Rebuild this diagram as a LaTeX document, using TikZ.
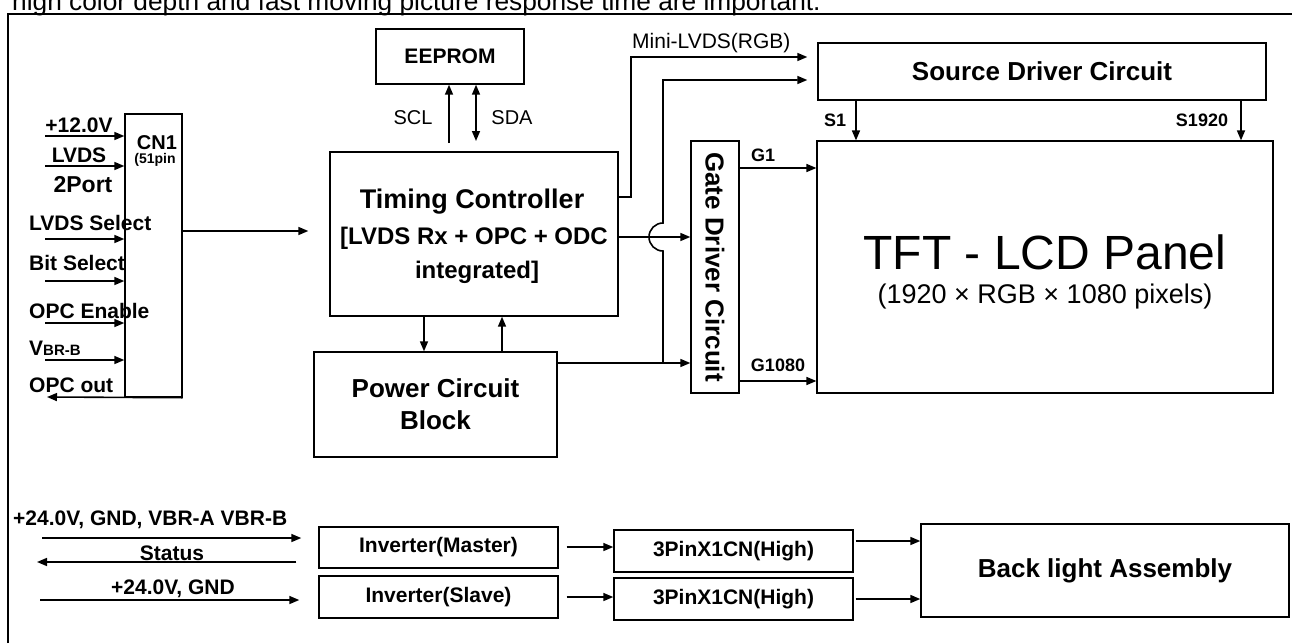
\documentclass[tikz,border=0pt]{standalone}
\usepackage{fontspec}
\setmainfont{Liberation Sans}
\usetikzlibrary{arrows.meta}
\newcommand\fsz[2]{\fontsize{#1}{#2}\selectfont}
\begin{document}
\begin{tikzpicture}[x=1pt, y=-1pt,
    box/.style={draw, line width=1.4pt, inner sep=0pt, align=center, font=\bfseries\fsz{21}{21}},
    lab/.style={inner sep=0pt, font=\bfseries\fsz{21}{21}},
    sig/.style={inner sep=0pt, font=\fsz{20}{20}},
    arr/.style={line width=1.6pt, -{Triangle[length=10pt, width=8pt]}},
    arrs/.style={line width=1.6pt, {Triangle[length=10pt, width=8pt]}-{Triangle[length=10pt, width=8pt]}}]
    \useasboundingbox (0,0) rectangle (1292,643);
    \node[anchor=base west, inner sep=0pt, font=\fsz{26.3}{26.3}] (note) at (12,10) {high color depth and fast moving picture response time are important.};
    \draw[line width=1.8pt] (8,643) -- (8,14) -- (1292,14);

    \node[box] (eeprom) at (450,56.5) [minimum width=148, minimum height=55] {EEPROM};
    \node[box] (tcon) at (474,234) [minimum width=288, minimum height=164] {};
    \node[lab, font=\bfseries\fsz{27}{27}] (tconname) at (472,202) {Timing Controller};
    \node[lab, font=\bfseries\fsz{24}{24}] (tconline2) at (474,238) {{[}LVDS Rx + OPC + ODC};
    \node[lab, font=\bfseries\fsz{24}{24}] (tconline3) at (477,272) {integrated]};
    \node[box, font=\bfseries\fsz{26}{32}] (power) at (435.5,404.5) [minimum width=243, minimum height=105] {Power Circuit\\ Block};
    \node[box] (cn1) at (153.5,255.5) [minimum width=57, minimum height=283] {};
    \node[box] (gate) at (715,267) [minimum width=48, minimum height=252] {};
    \node[lab, rotate=-90, font=\bfseries\fsz{26}{26}] (gatename) at (gate) {Gate Driver Circuit};
    \node[box, font=\bfseries\fsz{26}{26}] (source) at (1042,71.5) [minimum width=448, minimum height=57] {Source Driver Circuit};
    \node[box, line width=1.2pt] (panel) at (1045,267) [minimum width=456, minimum height=252] {};
    \node[inner sep=0pt, font=\fsz{48}{48}] (tft) at (1045,252) {TFT - LCD Panel};
    \node[inner sep=0pt, font=\fsz{27}{27}] (tftsize) at (1045,297) {(1920 × RGB × 1080 pixels)};

    \node[lab, font=\bfseries\fsz{20}{20}] (cn1name) at (157,143) {CN1};
    \node[lab, font=\bfseries\fsz{14}{14}] (cn1pins) at (155,160) {(51pin};
    \node[lab] (l12v) at (79,125) {+12.0V};
    \node[lab] (llvds) at (79,155) {LVDS};
    \node[lab, font=\bfseries\fsz{23}{23}] (lport) at (83,185) {2Port};
    \node[lab, anchor=west] (lsel) at (29,223) {LVDS Select};
    \node[lab, anchor=west] (lbit) at (29,263) {Bit Select};
    \node[lab, anchor=west] (lopc) at (29,311) {OPC Enable};
    \node[lab, anchor=west] (lvbr) at (29,348) {V{\fsz{15}{15}BR-B}};
    \node[lab, anchor=west] (lout) at (29,385) {OPC out};
    \foreach [count=\i] \y in {136,166,239,281,323,360} {
        \coordinate (in\i) at (45,\y);
        \draw[arr] (in\i) -- (in\i -| cn1.west);
    }
    \coordinate (opc) at (47,397);
    \draw[arr] (cn1.south east) -- (opc);
    \draw[arr, shorten >=21pt] (cn1.east |- 0,231) -- (tcon.west |- 0,231);

    \coordinate (scl) at (449,143);
    \coordinate (sda) at (476,141);
    \draw[arr] (scl) -- (scl |- eeprom.south);
    \draw[arrs] (sda) -- (sda |- eeprom.south);
    \node[sig] (scltext) at (413,118) {SCL};
    \node[sig] (sdatext) at (512,118) {SDA};

    \draw[arr] (tcon.south -| 424,0) -- (power.north -| 424,0);
    \draw[arr] (power.north -| 502,0) -- (tcon.south -| 502,0);
    \draw[arr, shorten >=10pt] (tcon.east |- 0,197) -- (631,197) |- (source.west |- 0,57);
    \node[sig, anchor=west, font=\fsz{21}{21}] (minilvds) at (632,43) {Mini-LVDS(RGB)};
    \draw[arr] (tcon.east |- 0,237) -- (gate.west |- 0,237);
    \draw[arr] (power.east |- 0,363) -- (gate.west |- 0,363);
    \draw[arr, shorten >=10pt] (663,363) -- (663,251) arc[start angle=270, end angle=90, radius=14pt] |- (source.west |- 0,80);

    \draw[arr] (gate.east |- 0,168) -- (panel.west |- 0,168);
    \draw[arr] (gate.east |- 0,381) -- (panel.west |- 0,381);
    \draw[arr] (source.south -| 856,0) -- (panel.north -| 856,0);
    \draw[arr] (source.south -| 1241,0) -- (panel.north -| 1241,0);
    \node[lab, font=\bfseries\fsz{18}{18}] (g1) at (763,155) {G1};
    \node[lab, font=\bfseries\fsz{18}{18}] (g1080) at (778,365) {G1080};
    \node[lab, font=\bfseries\fsz{18}{18}] (s1) at (835,120) {S1};
    \node[lab, font=\bfseries\fsz{18}{18}] (s1920) at (1202,120) {S1920};

    \node[box] (invm) at (438.5,547.5) [minimum width=239, minimum height=41] {Inverter(Master)};
    \node[box] (invs) at (438.5,597) [minimum width=239, minimum height=42] {Inverter(Slave)};
    \node[box] (pina) at (733.5,551) [minimum width=239, minimum height=42] {3PinX1CN(High)};
    \node[box] (pinb) at (733.5,599) [minimum width=239, minimum height=42] {3PinX1CN(High)};
    \node[box, font=\bfseries\fsz{26}{26}] (blu) at (1105,570.5) [minimum width=368, minimum height=93] {Back light Assembly};
    \node[lab, anchor=west] (l24a) at (13,520) {+24.0V, GND, VBR-A VBR-B};
    \node[lab] (lstat) at (172,553) {Status};
    \node[lab] (l24b) at (173,589) {+24.0V, GND};
    \coordinate (b1) at (42,538);
    \coordinate (b2) at (37,562);
    \coordinate (b3) at (40,600);
    \draw[arr, shorten >=17pt] (b1) -- (b1 -| invm.west);
    \draw[arr, shorten <=22pt] (b2 -| invm.west) -- (b2);
    \draw[arr, shorten >=19pt] (b3) -- (b3 -| invs.west);
    \draw[arr, shorten <=8pt] (invm.east |- 0,547) -- (pina.west |- 0,547);
    \draw[arr, shorten <=8pt] (invs.east |- 0,597) -- (pinb.west |- 0,597);
    \draw[arr, shorten <=2pt] (pina.east |- 0,541) -- (blu.west |- 0,541);
    \draw[arr, shorten <=2pt] (pinb.east |- 0,599) -- (blu.west |- 0,599);
\end{tikzpicture}
\end{document}
